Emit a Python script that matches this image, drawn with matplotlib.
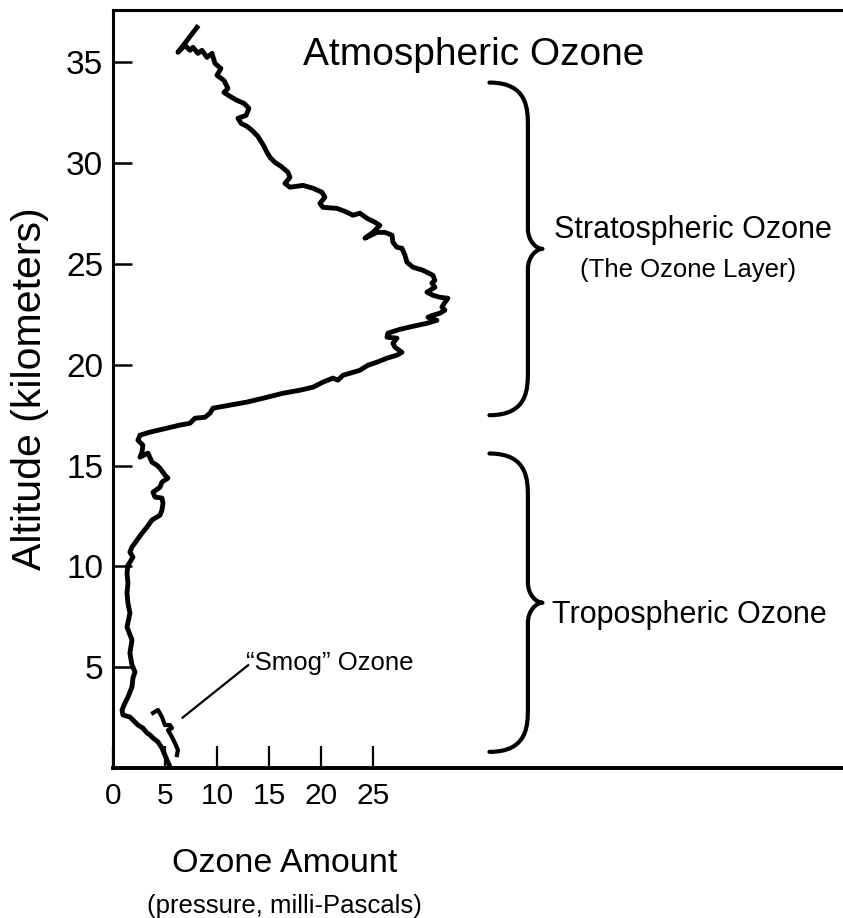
import matplotlib
matplotlib.use('Agg')
import matplotlib.pyplot as plt
from matplotlib.path import Path
from matplotlib.patches import PathPatch

plt.rcParams['font.family'] = ['Liberation Sans', 'DejaVu Sans']

# ozone profile, top of sounding down to the ground (mPa, km)
ozone = [8.08, 6.25, 6.92, 7.40, 7.69, 8.17, 8.56, 9.04, 9.52, 9.81,
         10.38, 10.00, 10.67, 11.06, 10.67, 11.25, 11.92, 12.60, 13.08, 12.79,
         12.02, 12.31, 12.88, 13.37, 13.94, 14.23, 14.52, 14.81, 15.10, 15.58,
         16.15, 16.83, 17.02, 16.54, 17.02, 18.27, 19.23, 20.10, 20.38, 19.90,
         20.19, 21.54, 22.50, 23.08, 23.75, 24.42, 25.19, 25.67, 25.00, 24.23,
         25.38, 26.15, 26.83, 26.92, 27.31, 27.79, 28.08, 28.27, 28.85, 29.81,
         30.77, 30.96, 30.67, 30.96, 30.19, 30.77, 31.44, 32.21, 31.92, 31.63,
         31.92, 31.44, 30.77, 30.29, 31.15, 30.19, 28.85, 27.60, 26.44, 26.35,
         27.31, 26.92, 27.12, 27.79, 27.31, 26.35, 25.38, 24.52, 23.75, 22.79,
         22.12, 21.63, 21.15, 20.19, 19.23, 17.98, 16.35, 14.42, 12.88, 11.25,
         9.62, 9.33, 8.85, 7.88, 7.40, 6.44, 5.19, 3.56, 2.60, 2.40,
         2.88, 2.79, 2.60, 3.37, 3.75, 4.23, 4.52, 5.00, 5.29, 4.71,
         4.52, 3.85, 4.04, 4.71, 4.81, 4.71, 4.52, 3.75, 3.27, 2.79,
         2.31, 1.83, 1.63, 1.92, 1.63, 1.44, 1.35, 1.44, 1.35, 1.44,
         1.63, 1.35, 1.83, 1.63, 1.83, 2.12, 1.92, 1.83, 1.44, 1.15,
         0.87, 0.96, 1.63, 2.12, 2.40, 2.88, 3.27, 3.56, 3.85, 4.33,
         4.71, 5.00, 5.29, 5.48]
altitude = [36.74, 35.50, 35.85, 35.60, 35.75, 35.45, 35.60, 35.25, 35.45, 34.95,
            34.70, 34.36, 34.11, 33.71, 33.51, 33.32, 33.12, 32.97, 32.72, 32.37,
            32.23, 31.98, 31.83, 31.63, 31.33, 31.09, 30.84, 30.54, 30.29, 30.04,
            29.85, 29.55, 29.30, 29.00, 28.81, 28.90, 28.76, 28.56, 28.31, 28.01,
            27.81, 27.76, 27.57, 27.42, 27.52, 27.27, 27.07, 26.92, 26.57, 26.28,
            26.57, 26.57, 26.43, 26.08, 25.83, 25.78, 25.43, 25.09, 24.84, 24.69,
            24.44, 24.19, 24.05, 23.85, 23.60, 23.45, 23.35, 23.30, 23.10, 22.86,
            22.71, 22.56, 22.46, 22.36, 22.21, 22.06, 21.91, 21.76, 21.57, 21.37,
            21.32, 21.07, 20.87, 20.62, 20.48, 20.33, 20.13, 19.98, 19.73, 19.58,
            19.48, 19.24, 19.34, 19.14, 18.89, 18.74, 18.59, 18.34, 18.15, 18.00,
            17.85, 17.60, 17.40, 17.35, 17.10, 17.01, 16.86, 16.66, 16.51, 16.26,
            16.01, 15.67, 15.42, 15.62, 15.17, 15.02, 14.87, 14.53, 14.38, 14.18,
            13.93, 13.68, 13.44, 13.39, 13.14, 12.79, 12.54, 12.30, 11.95, 11.65,
            11.30, 10.96, 10.71, 10.46, 10.21, 10.06, 9.67, 9.17, 8.68, 8.18,
            7.68, 6.99, 6.35, 5.70, 5.11, 4.76, 4.46, 4.02, 3.52, 3.22,
            2.88, 2.63, 2.53, 2.28, 2.13, 1.98, 1.74, 1.64, 1.49, 1.29,
            0.99, 0.64, 0.30, 0.05]

# separate smog trace near the ground
smog_ozone = [3.85, 4.33, 4.71, 5.00, 5.48, 5.67, 5.29, 5.67, 5.96, 6.25, 6.15]
smog_altitude = [2.73, 2.88, 2.53, 2.13, 2.13, 1.98, 1.88, 1.54, 1.24, 0.89, 0.64]

x_ticks = [0, 5, 10, 15, 20, 25]
y_ticks = [5, 10, 15, 20, 25, 30, 35]

# altitude ranges of the two layers (bottom, top, km)
strat_range = (17.5, 34.0)
trop_range = (0.8, 15.6)


def brace(ax, bottom, top, x_end=36.2, x_mid=39.9, x_tip=41.3):
    tip = (bottom + top) / 2
    r = 2.2
    verts = [(x_end, top), (x_mid, top), (x_mid, top - 0.6 * r), (x_mid, top - r),
             (x_mid, tip + 1.0),
             (x_mid, tip + 0.4), (x_tip - 0.6, tip), (x_tip, tip),
             (x_tip - 0.6, tip), (x_mid, tip - 0.4), (x_mid, tip - 1.0),
             (x_mid, bottom + r),
             (x_mid, bottom + 0.6 * r), (x_mid, bottom), (x_end, bottom)]
    codes = [Path.MOVETO, Path.CURVE4, Path.CURVE4, Path.CURVE4,
             Path.LINETO,
             Path.CURVE4, Path.CURVE4, Path.CURVE4,
             Path.CURVE4, Path.CURVE4, Path.CURVE4,
             Path.LINETO,
             Path.CURVE4, Path.CURVE4, Path.CURVE4]
    ax.add_patch(PathPatch(Path(verts, codes), fill=False, lw=3.0,
                           edgecolor='black', capstyle='round', joinstyle='round'))


fig = plt.figure(figsize=(8.43, 9.18), dpi=100)
ax = fig.add_axes([0.134, 0.1634, 0.866, 0.8257])

ax.plot(ozone, altitude, color='black', lw=3.5, solid_joinstyle='round')
ax.plot(smog_ozone, smog_altitude, color='black', lw=3.0, solid_joinstyle='round')

ax.set_xlim(0, 70.2)
ax.set_ylim(0, 37.6)
ax.set_xticks(x_ticks)
ax.set_yticks(y_ticks)
ax.tick_params(axis='x', direction='in', length=16, width=1.6, pad=10, labelsize=21.5)
ax.tick_params(axis='y', direction='in', length=14, width=1.8, pad=7, labelsize=24)
ax.spines['right'].set_visible(False)
ax.spines['left'].set_linewidth(2.2)
ax.spines['top'].set_linewidth(2.2)
ax.spines['bottom'].set_linewidth(2.8)

brace(ax, *strat_range)
brace(ax, *trop_range)

ax.text(34.7, 34.85, 'Atmospheric Ozone', fontsize=28, ha='center', va='baseline')
ax.text(55.8, 26.28, 'Stratospheric Ozone', fontsize=22, ha='center', va='baseline')
ax.text(55.3, 24.34, '(The Ozone Layer)', fontsize=18.5, ha='center', va='baseline')
ax.text(55.4, 7.19, 'Tropospheric Ozone', fontsize=22, ha='center', va='baseline')
ax.text(20.8, 4.86, '\u201cSmog\u201d Ozone', fontsize=18.5, ha='center', va='baseline')
ax.plot([13.0, 6.7], [5.1, 2.5], color='black', lw=1.6)

fig.text(30 / 843, 0.577, 'Altitude (kilometers)', rotation=90, fontsize=29.5,
         ha='center', va='center')
fig.text(0.338, 0.0501, 'Ozone Amount', fontsize=24.5, ha='center', va='baseline')
fig.text(0.337, 0.0054, '(pressure, milli-Pascals)', fontsize=18.5, ha='center', va='baseline')

fig.savefig('out.png', dpi=100)
